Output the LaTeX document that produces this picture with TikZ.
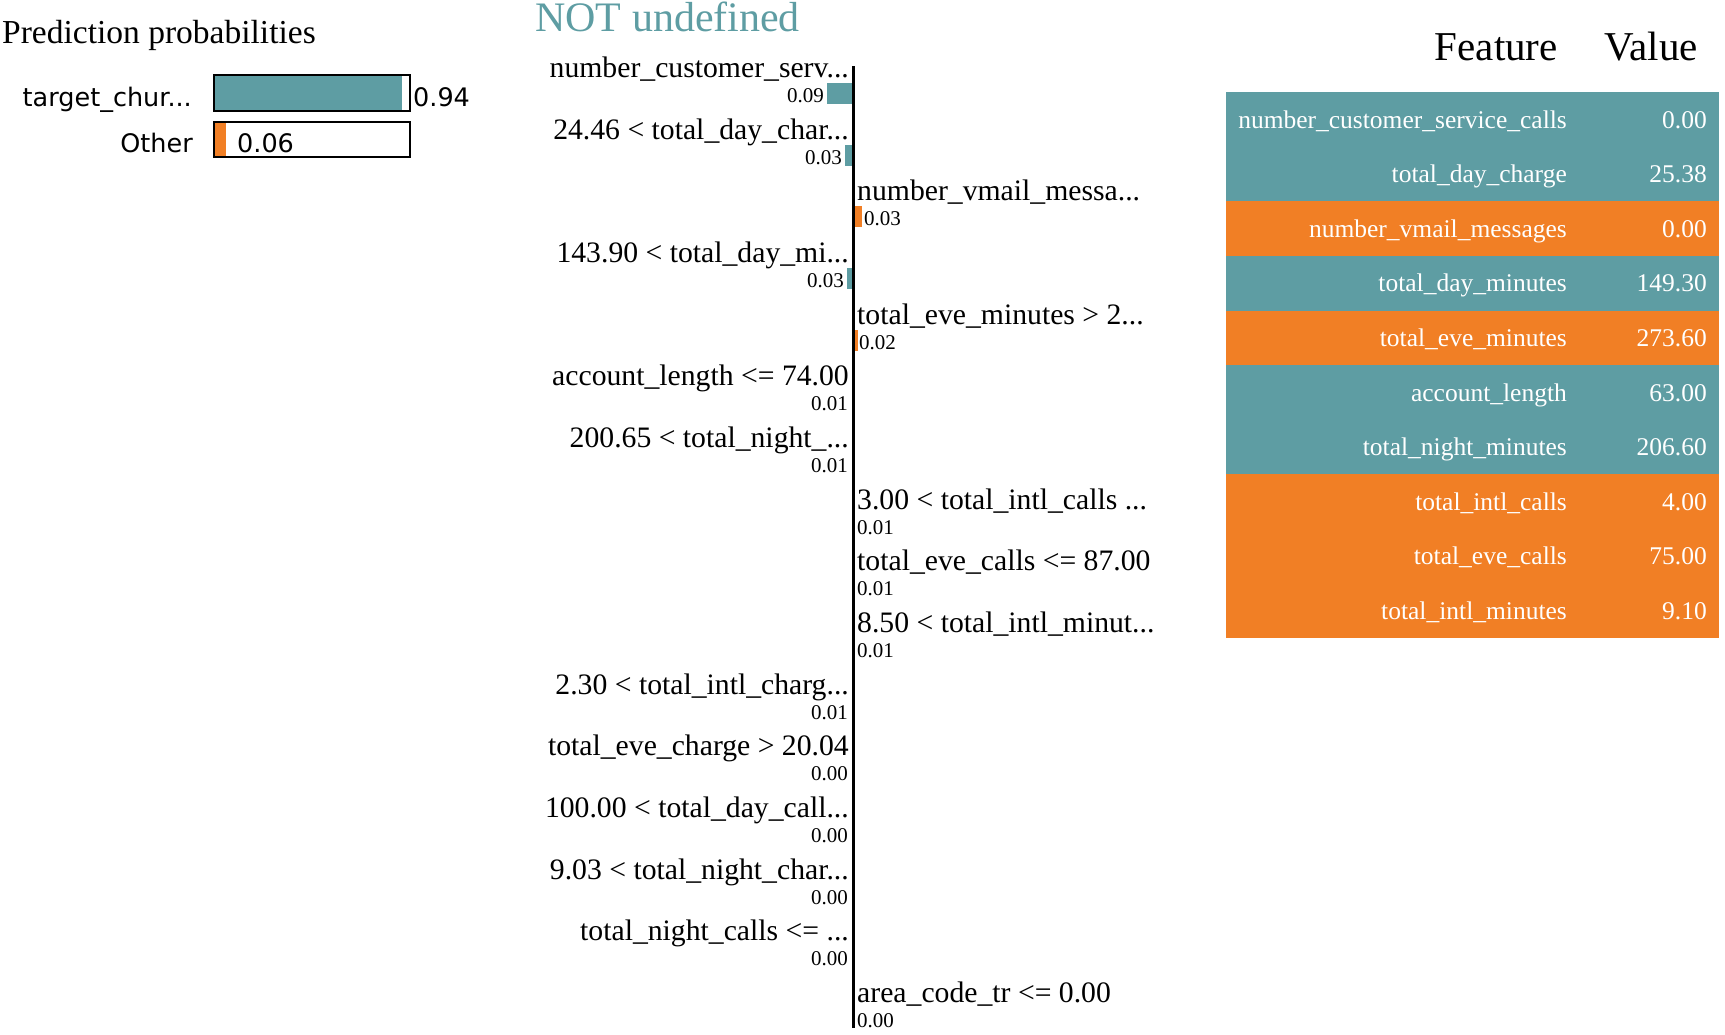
\documentclass[tikz,border=0pt]{standalone}
\usepackage{fontspec}
\setmainfont{Liberation Serif}
\newfontfamily\probfont{DejaVu Sans}
\definecolor{limeteal}{RGB}{94,157,163}
\definecolor{limeorange}{RGB}{241,127,37}
\begin{document}
\begin{tikzpicture}[x=1pt,y=-1pt,
    every node/.style={inner sep=0pt},
    lft/.style={anchor=base east,font=\fontsize{29.7}{30}\selectfont},
    rgt/.style={anchor=base west,font=\fontsize{29.7}{30}\selectfont},
    lval/.style={anchor=base east,font=\fontsize{21}{21}\selectfont},
    rval/.style={anchor=base west,font=\fontsize{21}{21}\selectfont},
    probtxt/.style={font=\probfont\fontsize{25.5}{26}\selectfont},
    rowbox/.style={anchor=north west,minimum width=493pt,minimum height=54.6pt},
    cell/.style={anchor=base east,text=white,font=\fontsize{25.5}{26}\selectfont},
    head/.style={anchor=base east,font=\fontsize{41}{42}\selectfont}]
  \useasboundingbox (0,0) rectangle (1725,1034);
  % prediction probabilities
  \node[anchor=base west,font=\fontsize{33.5}{34}\selectfont] (ptitle) at (2,43) {Prediction probabilities};
  \fill[limeteal] (215,76) rectangle (402,110);
  \draw[line width=2pt] (214,75) rectangle (410,111);
  \fill[limeorange] (215,123) rectangle (226,156);
  \draw[line width=2pt] (214,122) rectangle (410,157);
  \draw
    (192,106) node[probtxt,anchor=base east] (pc1){target\_chur...}
    (413,106) node[probtxt,anchor=base west] (pv1){0.94}
    (193,152) node[probtxt,anchor=base east] (pc2){Other}
    (237,152) node[probtxt,anchor=base west] (pv2){0.06};
  % explanation
  \node[anchor=base west,text=limeteal,font=\fontsize{42}{42}\selectfont] (etitle) at (535,31) {NOT undefined};
  \coordinate (axtop) at (853,66);
  \coordinate (axbot) at (853,1028);
  \begin{scope}[line width=0pt]
    \fill[limeteal] (826.5,83) rectangle (851.5,104);
    \fill[limeteal] (844.5,145) rectangle (851.5,166);
    \fill[limeorange] (854.5,206) rectangle (861.5,227);
    \fill[limeteal] (846.5,268) rectangle (851.5,289);
    \fill[limeorange] (854.5,330) rectangle (857.5,351);
  \end{scope}
  \draw[line width=3pt] (axtop) -- (axbot);
  \draw
    (849,77) node[lft] (f1){number\_customer\_serv...}
    (824,102) node[lval] (v1){0.09}
    (849,139) node[lft] (f2){24.46 < total\_day\_char...}
    (842,164) node[lval] (v2){0.03}
    (857,200) node[rgt] (f3){number\_vmail\_messa...}
    (864,225) node[rval] (v3){0.03}
    (849,262) node[lft] (f4){143.90 < total\_day\_mi...}
    (844,287) node[lval] (v4){0.03}
    (857,324) node[rgt] (f5){total\_eve\_minutes > 2...}
    (859,349) node[rval] (v5){0.02}
    (849,385) node[lft] (f6){account\_length <= 74.00}
    (848,410) node[lval] (v6){0.01}
    (849,447) node[lft] (f7){200.65 < total\_night\_...}
    (848,472) node[lval] (v7){0.01}
    (857,509) node[rgt] (f8){3.00 < total\_intl\_calls ...}
    (857,534) node[rval] (v8){0.01}
    (857,570) node[rgt] (f9){total\_eve\_calls <= 87.00}
    (857,595) node[rval] (v9){0.01}
    (857,632) node[rgt] (f10){8.50 < total\_intl\_minut...}
    (857,657) node[rval] (v10){0.01}
    (849,694) node[lft] (f11){2.30 < total\_intl\_charg...}
    (848,719) node[lval] (v11){0.01}
    (849,755) node[lft] (f12){total\_eve\_charge > 20.04}
    (848,780) node[lval] (v12){0.00}
    (849,817) node[lft] (f13){100.00 < total\_day\_call...}
    (848,842) node[lval] (v13){0.00}
    (849,879) node[lft] (f14){9.03 < total\_night\_char...}
    (848,904) node[lval] (v14){0.00}
    (849,940) node[lft] (f15){total\_night\_calls <= ...}
    (848,965) node[lval] (v15){0.00}
    (857,1002) node[rgt] (f16){area\_code\_tr <= 0.00}
    (857,1027) node[rval] (v16){0.00};
  % feature table
  \node[head] (hfeat) at (1558,60) {Feature};
  \node[head] (hval) at (1698,60) {Value};
  \node[rowbox,fill=limeteal] (r1) at (1226,92) {};
  \node[rowbox,fill=limeteal] (r2) at (1226,146.6) {};
  \node[rowbox,fill=limeorange] (r3) at (1226,201.2) {};
  \node[rowbox,fill=limeteal] (r4) at (1226,255.8) {};
  \node[rowbox,fill=limeorange] (r5) at (1226,310.4) {};
  \node[rowbox,fill=limeteal] (r6) at (1226,365) {};
  \node[rowbox,fill=limeteal] (r7) at (1226,419.6) {};
  \node[rowbox,fill=limeorange] (r8) at (1226,474.2) {};
  \node[rowbox,fill=limeorange] (r9) at (1226,528.8) {};
  \node[rowbox,fill=limeorange] (r10) at (1226,583.4) {};
  \draw
    (1567,128) node[cell] (n1){number\_customer\_service\_calls}
    (1707,128) node[cell] (c1){0.00}
    (1567,182.6) node[cell] (n2){total\_day\_charge}
    (1707,182.6) node[cell] (c2){25.38}
    (1567,237.2) node[cell] (n3){number\_vmail\_messages}
    (1707,237.2) node[cell] (c3){0.00}
    (1567,291.8) node[cell] (n4){total\_day\_minutes}
    (1707,291.8) node[cell] (c4){149.30}
    (1567,346.4) node[cell] (n5){total\_eve\_minutes}
    (1707,346.4) node[cell] (c5){273.60}
    (1567,401) node[cell] (n6){account\_length}
    (1707,401) node[cell] (c6){63.00}
    (1567,455.6) node[cell] (n7){total\_night\_minutes}
    (1707,455.6) node[cell] (c7){206.60}
    (1567,510.2) node[cell] (n8){total\_intl\_calls}
    (1707,510.2) node[cell] (c8){4.00}
    (1567,564.8) node[cell] (n9){total\_eve\_calls}
    (1707,564.8) node[cell] (c9){75.00}
    (1567,619.4) node[cell] (n10){total\_intl\_minutes}
    (1707,619.4) node[cell] (c10){9.10};
\end{tikzpicture}
\end{document}
